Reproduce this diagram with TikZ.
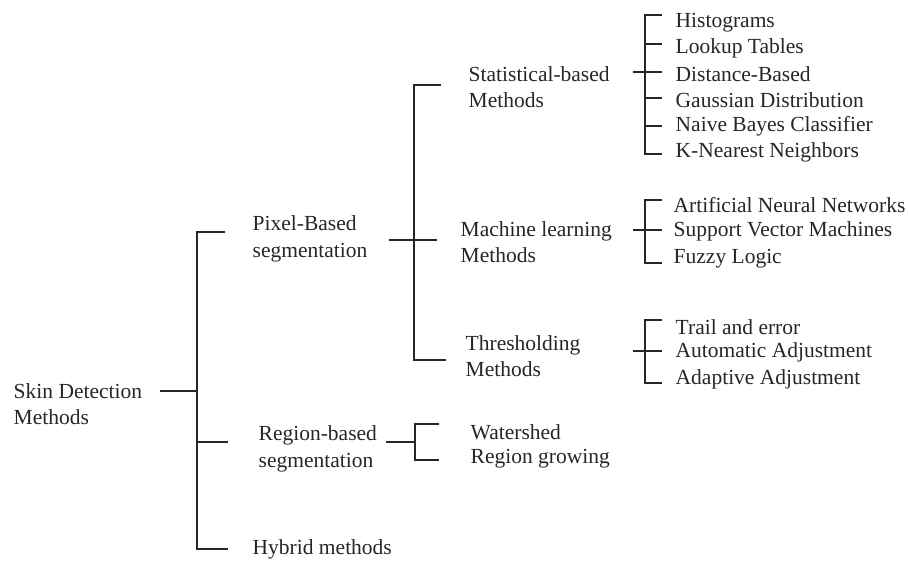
\documentclass[tikz,border=0pt]{standalone}
\usepackage{fontspec}
\setmainfont{Liberation Serif}
\usepackage{tikz}
\usetikzlibrary{positioning}
\usepackage{xcolor}

\begin{document}
\begin{tikzpicture}[x=1pt,y=-1pt,line width=1.4pt,draw=black!85,
  every node/.style={anchor=west,inner sep=0pt,align=left,text=black!85,
    font=\fontsize{21.5}{26.5}\selectfont}]
\useasboundingbox (0,0) rectangle (909,560);
% level 0 and 1
\node (skin) at (13,404) {Skin Detection\\Methods};
\node (pix) at (252,239) {Pixel-Based\\segmentation};
\node (reg) at (258,449) {Region-based\\segmentation};
\node (hyb) at (252,549) {Hybrid methods};
% level 2
\node (stat) at (468,87) {Statistical-based\\Methods};
\node (mach) at (460,242) {Machine learning\\Methods};
\node (thr) at (465,356) {Thresholding\\Methods};
\node (w1) at (470,432) {Watershed};
\node (w2) at (470,459) {Region growing};
% level 3
\node (h1) at (675,22.5) {Histograms};
\node (h2) at (675,48) {Lookup Tables};
\node (h3) at (675,74) {Distance-Based};
\node (h4) at (675,100) {Gaussian Distribution};
\node (h5) at (675,126) {Naive Bayes Classifier};
\node (h6) at (675,152.5) {K-Nearest Neighbors};
\node (m1) at (673,205.5) {Artificial Neural Networks};
\node (m2) at (673,231.5) {Support Vector Machines};
\node (m3) at (673,258.5) {Fuzzy Logic};
\node (t1) at (675,327.5) {Trail and error};
\node (t2) at (675,352.5) {Automatic Adjustment};
\node (t3) at (675,379.5) {Adaptive Adjustment};
% root bracket
\coordinate (r0) at (160,391);
\coordinate (r1) at (197,391);
\coordinate (pixT) at (225,232);
\coordinate (regT) at (228,442);
\coordinate (hybT) at (228,549);
\draw (r0) -- (r1);
\draw (pixT) -- (r1 |- pixT) -- (r1 |- hybT) -- (hybT);
\draw (r1 |- regT) -- (regT);
% pixel bracket
\coordinate (p0) at (389,240);
\coordinate (p1) at (414,240);
\coordinate (statT) at (441,85);
\coordinate (machT) at (437,240);
\coordinate (thrT) at (446,360);
\draw (p0) -- (machT);
\draw (statT) -- (p1 |- statT) -- (p1 |- thrT) -- (thrT);
% region bracket
\coordinate (g0) at (386,442);
\coordinate (g1) at (415,442);
\coordinate (wT) at (439,424);
\coordinate (wB) at (439,460);
\draw (g0) -- (g1);
\draw (wT) -- (g1 |- wT) -- (g1 |- wB) -- (wB);
% statistical bracket
\coordinate (s0) at (633,72);
\coordinate (s1) at (645,72);
\coordinate (sT) at (662,15);
\coordinate (s2) at (662,44);
\coordinate (s4) at (662,98);
\coordinate (s5) at (662,126);
\coordinate (sB) at (662,154);
\draw (s0) -- (s0 -| sT);
\draw (sT) -- (s1 |- sT) -- (s1 |- sB) -- (sB);
\draw (s1 |- s2) -- (s2);
\draw (s1 |- s4) -- (s4);
\draw (s1 |- s5) -- (s5);
% machine learning bracket
\coordinate (c0) at (633,230);
\coordinate (c1) at (645,230);
\coordinate (cT) at (662,200);
\coordinate (cB) at (662,263);
\draw (c0) -- (c0 -| cT);
\draw (cT) -- (c1 |- cT) -- (c1 |- cB) -- (cB);
% thresholding bracket
\coordinate (d0) at (633,351);
\coordinate (d1) at (645,351);
\coordinate (dT) at (662,320);
\coordinate (dB) at (662,383);
\draw (d0) -- (d0 -| dT);
\draw (dT) -- (d1 |- dT) -- (d1 |- dB) -- (dB);
\end{tikzpicture}
\end{document}
